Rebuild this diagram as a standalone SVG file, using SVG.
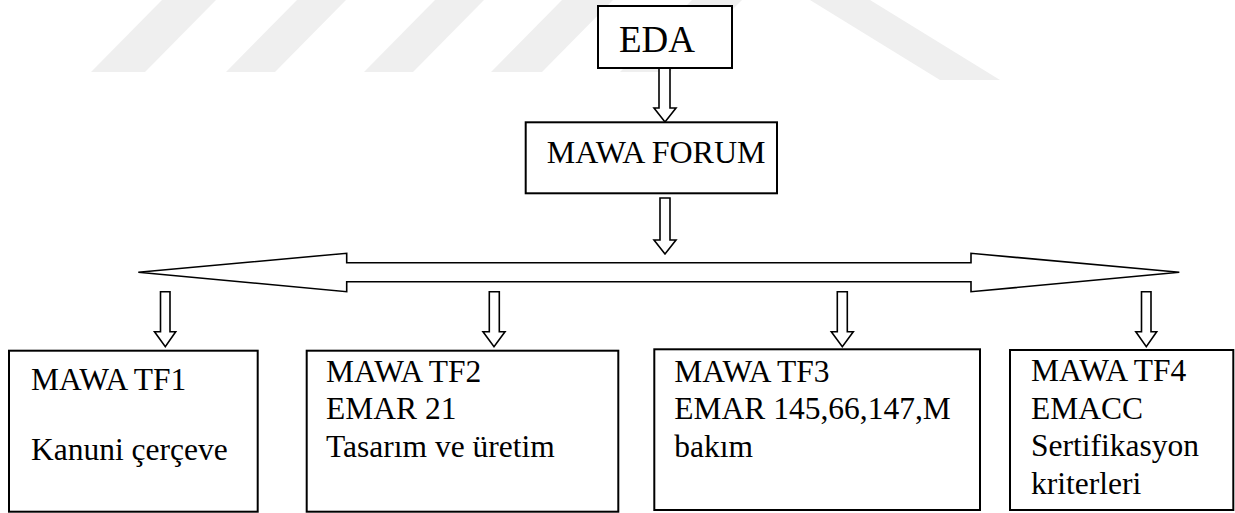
<svg xmlns="http://www.w3.org/2000/svg" width="1235" height="513" viewBox="0 0 1235 513">
<style>
.box{fill:#fff;stroke:#000;stroke-width:2}
.arr{fill:#fff;stroke:#000;stroke-width:1.6;stroke-linejoin:miter}
.t{font-size:31.5px;fill:#000}
.wm{fill:#efefef}
</style>
<rect width="1235" height="513" fill="#fff"/>
<g id="watermark">
<polygon class="wm" points="91,72 145,72 216,0 162,0"/>
<polygon class="wm" points="226,72 275,72 346,0 297,0"/>
<polygon class="wm" points="364,72 413,72 484,0 435,0"/>
<polygon class="wm" points="491,72 542,72 613,0 562,0"/>
<polygon class="wm" points="620,72 670,72 742,0 692,0"/>
<polygon class="wm" points="810,0 870,0 1000,80 940,80"/>
</g>
<g id="connectors">
<polygon class="arr" points="659,68 670,68 670,108 676,108 665,122 654,108 659,108"/>
<polygon class="arr" points="660,198 670,198 670,240 676,240 665,254 654,240 660,240"/>
<polygon class="arr" points="138.3,272.3 346.7,253.3 346.7,262.7 971,262.7 971,253.3 1179.3,272.3 971,291.7 971,281.7 346.7,281.7 346.7,291.7"/>
<polygon class="arr" points="160.5,291.7 170,291.7 170,331.7 175.7,331.7 165.3,346.7 154.5,331.7 160.5,331.7"/>
<polygon class="arr" points="489.3,291.7 499.3,291.7 499.3,331.7 505,331.7 494,346.7 483,331.7 489.3,331.7"/>
<polygon class="arr" points="837.3,291.7 847.3,291.7 847.3,331.7 853.3,331.7 842.3,346.7 831.3,331.7 837.3,331.7"/>
<polygon class="arr" points="1141.5,291.7 1151,291.7 1151,331.7 1156.7,331.7 1146.3,346.7 1135.8,331.7 1141.5,331.7"/>
</g>
<g font-family="Liberation Serif, Times New Roman, DejaVu Serif, serif">
<g id="eda">
<rect class="box" x="598" y="6" width="134" height="62"/>
<text class="t" x="619" y="52" style="font-size:37px">EDA</text>
</g>
<g id="mawa-forum">
<rect class="box" x="525.7" y="122.3" width="251.3" height="71"/>
<text class="t" x="546.7" y="163.3" style="font-size:32px">MAWA FORUM</text>
</g>
<g id="tf1">
<rect class="box" x="9" y="350.7" width="248.7" height="161"/>
<text class="t" x="31" y="390">MAWA TF1</text>
<text class="t" x="31" y="460">Kanuni çerçeve</text>
</g>
<g id="tf2">
<rect class="box" x="306.7" y="350.7" width="311.6" height="161"/>
<text class="t" x="326" y="381.7">MAWA TF2</text>
<text class="t" x="326" y="419.3">EMAR 21</text>
<text class="t" x="326" y="456.7">Tasarım ve üretim</text>
</g>
<g id="tf3">
<rect class="box" x="654.3" y="349.3" width="325.7" height="160.7"/>
<text class="t" x="674.3" y="381.7">MAWA TF3</text>
<text class="t" x="674.3" y="419.3">EMAR 145,66,147,M</text>
<text class="t" x="674.3" y="456.7">bakım</text>
</g>
<g id="tf4">
<rect class="box" x="1010" y="350" width="223.3" height="160"/>
<text class="t" x="1031" y="381">MAWA TF4</text>
<text class="t" x="1031" y="418.5">EMACC</text>
<text class="t" x="1031" y="456">Sertifikasyon</text>
<text class="t" x="1031" y="493.5">kriterleri</text>
</g>
</g>
</svg>
